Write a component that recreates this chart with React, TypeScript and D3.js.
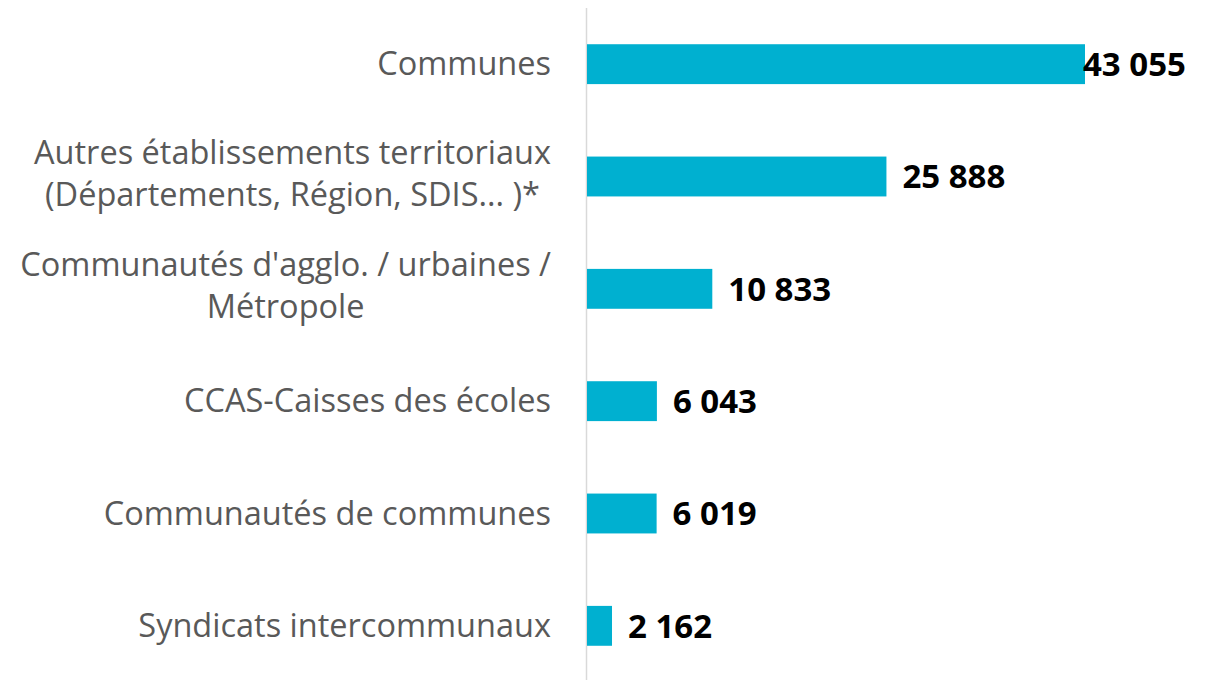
import React, { useMemo } from "react";
import * as d3 from "d3";

const categories: string[][] = [
  ["Communes"],
  ["Autres établissements territoriaux", "(Départements, Région, SDIS... )*"],
  ["Communautés d'agglo. / urbaines /", "Métropole"],
  ["CCAS-Caisses des écoles"],
  ["Communautés de communes"],
  ["Syndicats intercommunaux"],
];
const values: number[] = [43055, 25888, 10833, 6043, 6019, 2162];
const valueLabels: string[] = ["43 055", "25 888", "10 833", "6 043", "6 019", "2 162"];

const W = 1216;
const H = 680;
const axisX = 586.5;
const FONT = "'Open Sans', 'Liberation Sans', sans-serif";
const LABEL_SIZE = 32.5;
const LABEL_RIGHT = 551;

function measure(texts: string[]): number {
  const c = document.createElement("canvas").getContext("2d");
  if (!c) return 0;
  c.font = `${LABEL_SIZE}px ${FONT}`;
  return Math.max(...texts.map((t) => c.measureText(t).width));
}

export default function App() {
  const x = d3.scaleLinear().domain([0, 43055]).range([axisX + 0.5, 1085]);
  const idx = categories.map((_, i) => String(i));
  const y = d3.scaleBand<string>().domain(idx).range([8, 682]).paddingInner(0.645).paddingOuter(0.3225);
  const bw = y.bandwidth();
  const widths = useMemo(() => categories.map((l) => measure(l)), []);

  return (
    <svg width={W} height={H} style={{ position: "absolute", left: 0, top: 0, background: "#fff" }}>
      <line x1={axisX} x2={axisX} y1={8} y2={680} stroke="#D9D9D9" strokeWidth={1.5} />
      {values.map((v, i) => {
        const y0 = y(String(i))!;
        const cy = y0 + bw / 2;
        const lines = categories[i];
        const lh = 42;
        const multi = lines.length > 1;
        const cx = LABEL_RIGHT - widths[i] / 2;
        return (
          <g key={i}>
            <rect x={x(0)} y={y0} width={x(v) - x(0)} height={bw} fill="#00B0D0" />
            <text
              x={x(v) + (i === 0 ? -2 : 16)}
              y={cy}
              dy="0.36em"
              fontFamily={FONT}
              fontWeight="bold"
              fontSize={33}
              fill="#000"
            >
              {valueLabels[i]}
            </text>
            {lines.map((l, j) => (
              <text
                key={j}
                x={multi ? cx : LABEL_RIGHT}
                y={cy + (j - (lines.length - 1) / 2) * lh - (multi ? 2.5 : 0)}
                dy="0.34em"
                textAnchor={multi ? "middle" : "end"}
                fontFamily={FONT}
                fontSize={LABEL_SIZE}
                fill="#595959"
              >
                {l}
              </text>
            ))}
          </g>
        );
      })}
    </svg>
  );
}
